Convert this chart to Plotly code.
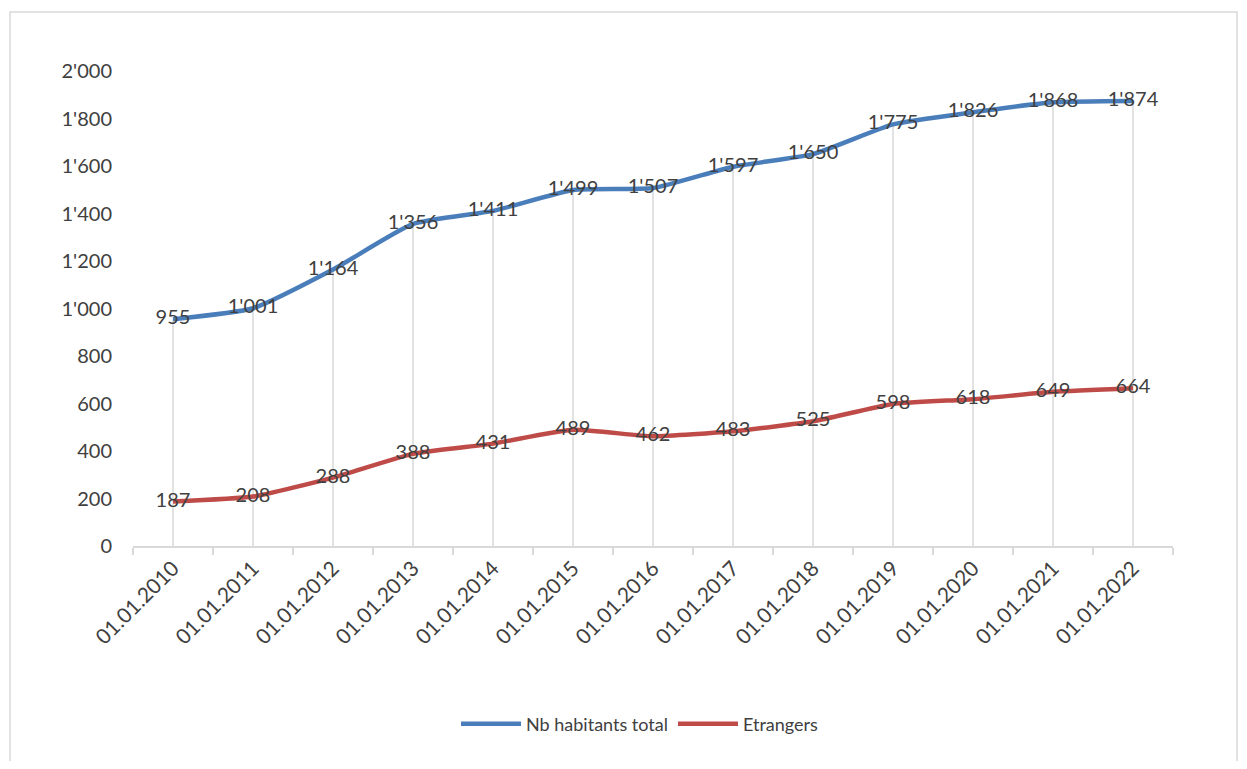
import plotly.graph_objects as go

dates = ["01.01.2010", "01.01.2011", "01.01.2012", "01.01.2013", "01.01.2014",
         "01.01.2015", "01.01.2016", "01.01.2017", "01.01.2018", "01.01.2019",
         "01.01.2020", "01.01.2021", "01.01.2022"]
total = [955, 1001, 1164, 1356, 1411, 1499, 1507, 1597, 1650, 1775, 1826, 1868, 1874]
etrangers = [187, 208, 288, 388, 431, 489, 462, 483, 525, 598, 618, 649, 664]
y_ticks = [0, 200, 400, 600, 800, 1000, 1200, 1400, 1600, 1800, 2000]

FONT = "Lato"
TXT = "#404040"
GRID = "#d9d9d9"

# drop lines from the highest series down to the axis
dx, dy = [], []
for d, v in zip(dates, total):
    dx += [d, d, None]
    dy += [0, v, None]

fig = go.Figure()
fig.add_trace(go.Scatter(x=dx, y=dy, mode="lines", line=dict(color=GRID, width=1.5),
                         showlegend=False, hoverinfo="skip", connectgaps=False))
fig.add_trace(go.Scatter(x=dates, y=total, name="Nb habitants total", mode="lines+text",
                         line=dict(color="#4a7ebb", width=4.5, shape="spline", smoothing=0.5),
                         texttemplate="%{y:,d}", textposition="middle center",
                         textfont=dict(family=FONT, size=20, color=TXT)))
fig.add_trace(go.Scatter(x=dates, y=etrangers, name="Etrangers", mode="lines+text",
                         line=dict(color="#be4b48", width=4.5, shape="spline", smoothing=0.5),
                         texttemplate="%{y:,d}", textposition="middle center",
                         textfont=dict(family=FONT, size=20, color=TXT)))

OFF = 8  # page body margin
L, R, T, B = 133 - OFF, 1173 - OFF, 71 - OFF, 546 - OFF
W, H = 1247 - 2 * OFF, 769 - 2 * OFF
pw, ph = R - L, B - T

def px(x):
    return (x - OFF - L) / pw

def py(y):
    return (B - (y - OFF)) / ph

fig.update_layout(
    width=W, height=H,
    margin=dict(l=L, r=W - R, t=T, b=H - B),
    paper_bgcolor="white", plot_bgcolor="white",
    separators=".'",
    font=dict(family=FONT, size=20, color=TXT),
    showlegend=True,
    legend=dict(orientation="h", x=px(640), xanchor="center", y=py(724), yanchor="middle",
                font=dict(family=FONT, size=18, color=TXT), itemwidth=60),
    shapes=[dict(type="rect", xref="paper", yref="paper",
                 x0=px(10), x1=px(1237), y0=py(800), y1=py(12),
                 line=dict(color=GRID, width=1.5), fillcolor="rgba(0,0,0,0)", layer="below")],
)
fig.update_xaxes(type="category", categoryorder="array", categoryarray=dates,
                 range=[-0.5, len(dates) - 0.5], tickangle=-45, tickson="boundaries",
                 ticks="outside", ticklen=7, tickcolor=GRID, tickwidth=1.5,
                 showline=True, linecolor=GRID, linewidth=1.5, showgrid=False,
                 tickfont=dict(family=FONT, size=21, color=TXT), zeroline=False)
fig.update_yaxes(range=[0, 2000], tickvals=y_ticks, tickformat=",d", showgrid=False,
                 zeroline=False, showline=False, ticks="", ticklabelstandoff=20,
                 tickfont=dict(family=FONT, size=20, color=TXT))

fig.write_html("out.html")
